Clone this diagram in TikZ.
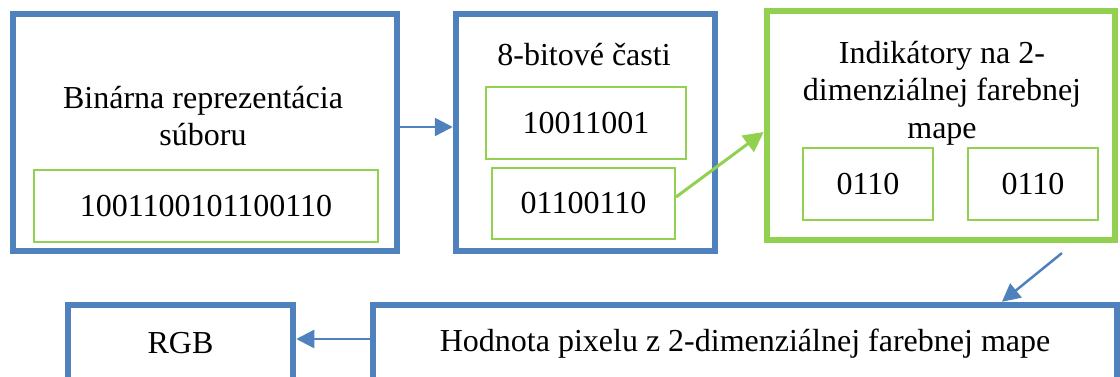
\documentclass[tikz,border=0pt]{standalone}
\usepackage{fontspec}
\setmainfont{Liberation Serif}
\usetikzlibrary{arrows.meta}
\definecolor{boxblue}{HTML}{4F81BD}
\definecolor{boxgreen}{HTML}{92D050}

\begin{document}
\begin{tikzpicture}[x=0.5pt,y=-0.5pt,
  font=\fontsize{16}{18.7}\selectfont,
  bigblue/.style={draw=boxblue,line width=3.25pt,inner sep=0pt},
  biggreen/.style={draw=boxgreen,line width=3.25pt,inner sep=0pt},
  smallgreen/.style={draw=boxgreen,line width=1pt,inner sep=0pt},
  bluearrow/.style={draw=boxblue,line width=1.25pt,-{Triangle[length=9pt,width=9pt]}},
  greenarrow/.style={draw=boxgreen,line width=1.5pt,-{Triangle[length=10pt,width=10pt]}}]
\useasboundingbox (0,0) rectangle (1120,376);
\clip (0,0) rectangle (1120,376);

\node[bigblue,minimum width=192pt,minimum height=118.5pt] (bin) at (205,132.5) {};
\node[align=center] (binlabel) at (203,116) {Binárna reprezentácia\\súboru};
\node[smallgreen,minimum width=172pt,minimum height=36pt] (binval) at (206,206) {1001100101100110};

\node[bigblue,minimum width=129.5pt,minimum height=118.5pt] (bits) at (585.5,132.5) {};
\node[anchor=base] (bitslabel) at (584,65) {8-bitové časti};
\node[smallgreen,minimum width=100pt,minimum height=36pt] (half1) at (586,123) {10011001};
\node[smallgreen,minimum width=91.5pt,minimum height=35.5pt] (half2) at (583.5,203.5) {01100110};

\node[biggreen,minimum width=174pt,minimum height=114.5pt] (ind) at (941,125.5) {};
\node[align=center] (indlabel) at (942,93) {Indikátory na 2-\\dimenziálnej farebnej\\mape};
\foreach \x/\n in {868/a,1033/b}
\node[smallgreen,minimum width=65pt,minimum height=36pt] (quart\n) at (\x,184) {0110};

\node[bigblue,minimum width=112.5pt,minimum height=38.5pt] (rgb) at (180.5,343.5) {RGB};
\node[bigblue,minimum width=372pt,minimum height=38.5pt] (pix) at (745,343.5) {Hodnota pixelu z 2-dimenziálnej farebnej mape};

\draw[bluearrow] ([yshift=2.75pt]bin.east) -- ([yshift=2.75pt]bits.west);
\draw[greenarrow] ([yshift=3.25pt]half2.east) -- ([yshift=-3.25pt]ind.west);
\draw[bluearrow,shorten <=7.8pt] ([xshift=66.5pt]ind.south) -- ([xshift=128.5pt]pix.north);
\draw[bluearrow] ([yshift=2.25pt]pix.west) -- ([yshift=2.25pt]rgb.east);
\end{tikzpicture}
\end{document}
